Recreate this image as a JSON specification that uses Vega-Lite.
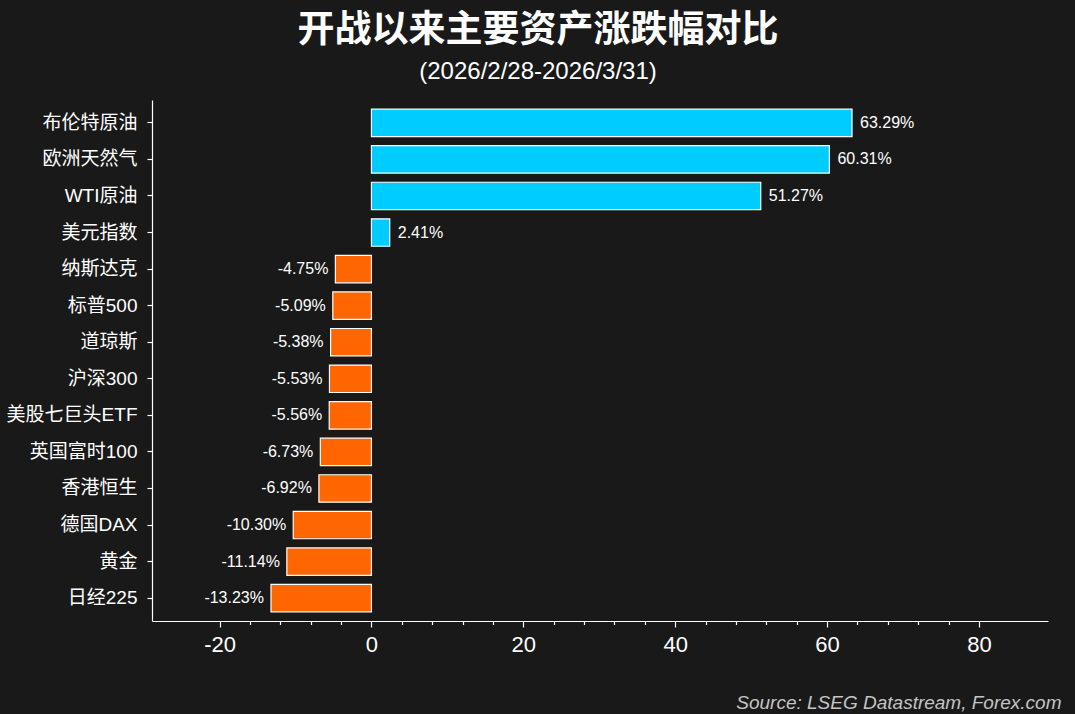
{
  "$schema": "https://vega.github.io/schema/vega-lite/v6.json",
  "width": 896,
  "height": 521,
  "autosize": {"type": "none"},
  "padding": {"left": 152, "top": 100, "right": 27, "bottom": 93},
  "background": "#191919",
  "config": {
    "view": {"stroke": null},
    "font": "Liberation Sans, Noto Sans CJK SC"
  },
  "title": {
    "text": "开战以来主要资产涨跌幅对比",
    "subtitle": "(2026/2/28-2026/3/31)",
    "anchor": "middle",
    "frame": "group",
    "dx": -62,
    "offset": 15,
    "font": "Noto Sans CJK SC",
    "fontSize": 37,
    "fontWeight": "bold",
    "color": "#ffffff",
    "subtitleFont": "Liberation Sans, Noto Sans CJK SC",
    "subtitleFontSize": 24,
    "subtitleColor": "#ffffff",
    "subtitlePadding": 10
  },
  "data": {
    "values": [
      {"asset": "布伦特原油", "value": 63.29, "label": "63.29%"},
      {"asset": "欧洲天然气", "value": 60.31, "label": "60.31%"},
      {"asset": "WTI原油", "value": 51.27, "label": "51.27%"},
      {"asset": "美元指数", "value": 2.41, "label": "2.41%"},
      {"asset": "纳斯达克", "value": -4.75, "label": "-4.75%"},
      {"asset": "标普500", "value": -5.09, "label": "-5.09%"},
      {"asset": "道琼斯", "value": -5.38, "label": "-5.38%"},
      {"asset": "沪深300", "value": -5.53, "label": "-5.53%"},
      {"asset": "美股七巨头ETF", "value": -5.56, "label": "-5.56%"},
      {"asset": "英国富时100", "value": -6.73, "label": "-6.73%"},
      {"asset": "香港恒生", "value": -6.92, "label": "-6.92%"},
      {"asset": "德国DAX", "value": -10.30, "label": "-10.30%"},
      {"asset": "黄金", "value": -11.14, "label": "-11.14%"},
      {"asset": "日经225", "value": -13.23, "label": "-13.23%"}
    ]
  },
  "encoding": {
    "y": {
      "field": "asset",
      "type": "nominal",
      "sort": null,
      "scale": {"paddingInner": 0.25, "paddingOuter": 0.25},
      "axis": {
        "title": null,
        "domain": true,
        "domainColor": "#ffffff",
        "domainWidth": 1.2,
        "ticks": true,
        "tickColor": "#ffffff",
        "tickSize": 5,
        "tickWidth": 1.2,
        "labelColor": "#ffffff",
        "labelFontSize": 19,
        "labelPadding": 10,
        "labelFont": "Liberation Sans, Noto Sans CJK SC"
      }
    }
  },
  "layer": [
    {
      "mark": {"type": "bar", "stroke": "#ffffff", "strokeWidth": 1.2},
      "encoding": {
        "x": {
          "field": "value",
          "type": "quantitative",
          "scale": {"domain": [-28.9, 89.1], "nice": false, "zero": false},
          "axis": {
            "values": [-20, -16, -12, -8, -4, 0, 4, 8, 12, 16, 20, 24, 28, 32, 36, 40, 44, 48, 52, 56, 60, 64, 68, 72, 76, 80],
            "tickCount": 100,
            "grid": false,
            "labelOverlap": false,
            "labelBound": false,
            "domainColor": "#ffffff",
            "domainWidth": 1.2,
            "tickColor": "#ffffff",
            "tickWidth": 1.2,
            "tickSize": {"condition": {"test": "datum.value % 20 === 0", "value": 6}, "value": 3.5},
            "labelExpr": "datum.value % 20 === 0 ? '' + datum.value : ''",
            "labelColor": "#ffffff",
            "labelFontSize": 22,
            "labelPadding": 7,
            "labelFont": "Liberation Sans",
            "title": "Source: LSEG Datastream, Forex.com",
            "titleFont": "Liberation Sans",
            "titleFontStyle": "italic",
            "titleFontWeight": "normal",
            "titleFontSize": 19,
            "titleColor": "#c4c4c4",
            "titleAnchor": "end",
            "titleAlign": "right",
            "titleBaseline": "alphabetic",
            "titleX": 909,
            "titleY": 87
          }
        },
        "color": {
          "condition": {"test": "datum.value >= 0", "value": "#00ccff"},
          "value": "#ff6600"
        }
      }
    },
    {
      "mark": {"type": "rule", "color": "#ffffff", "strokeWidth": 1.2},
      "encoding": {"x": {"datum": 0}}
    },
    {
      "transform": [{"filter": "datum.value >= 0"}],
      "mark": {"type": "text", "align": "left", "baseline": "middle", "dx": 8, "fontSize": 16, "color": "#ffffff", "font": "Liberation Sans"},
      "encoding": {
        "x": {"field": "value", "type": "quantitative"},
        "text": {"field": "label"}
      }
    },
    {
      "transform": [{"filter": "datum.value < 0"}],
      "mark": {"type": "text", "align": "right", "baseline": "middle", "dx": -7, "fontSize": 16, "color": "#ffffff", "font": "Liberation Sans"},
      "encoding": {
        "x": {"field": "value", "type": "quantitative"},
        "text": {"field": "label"}
      }
    }
  ]
}
